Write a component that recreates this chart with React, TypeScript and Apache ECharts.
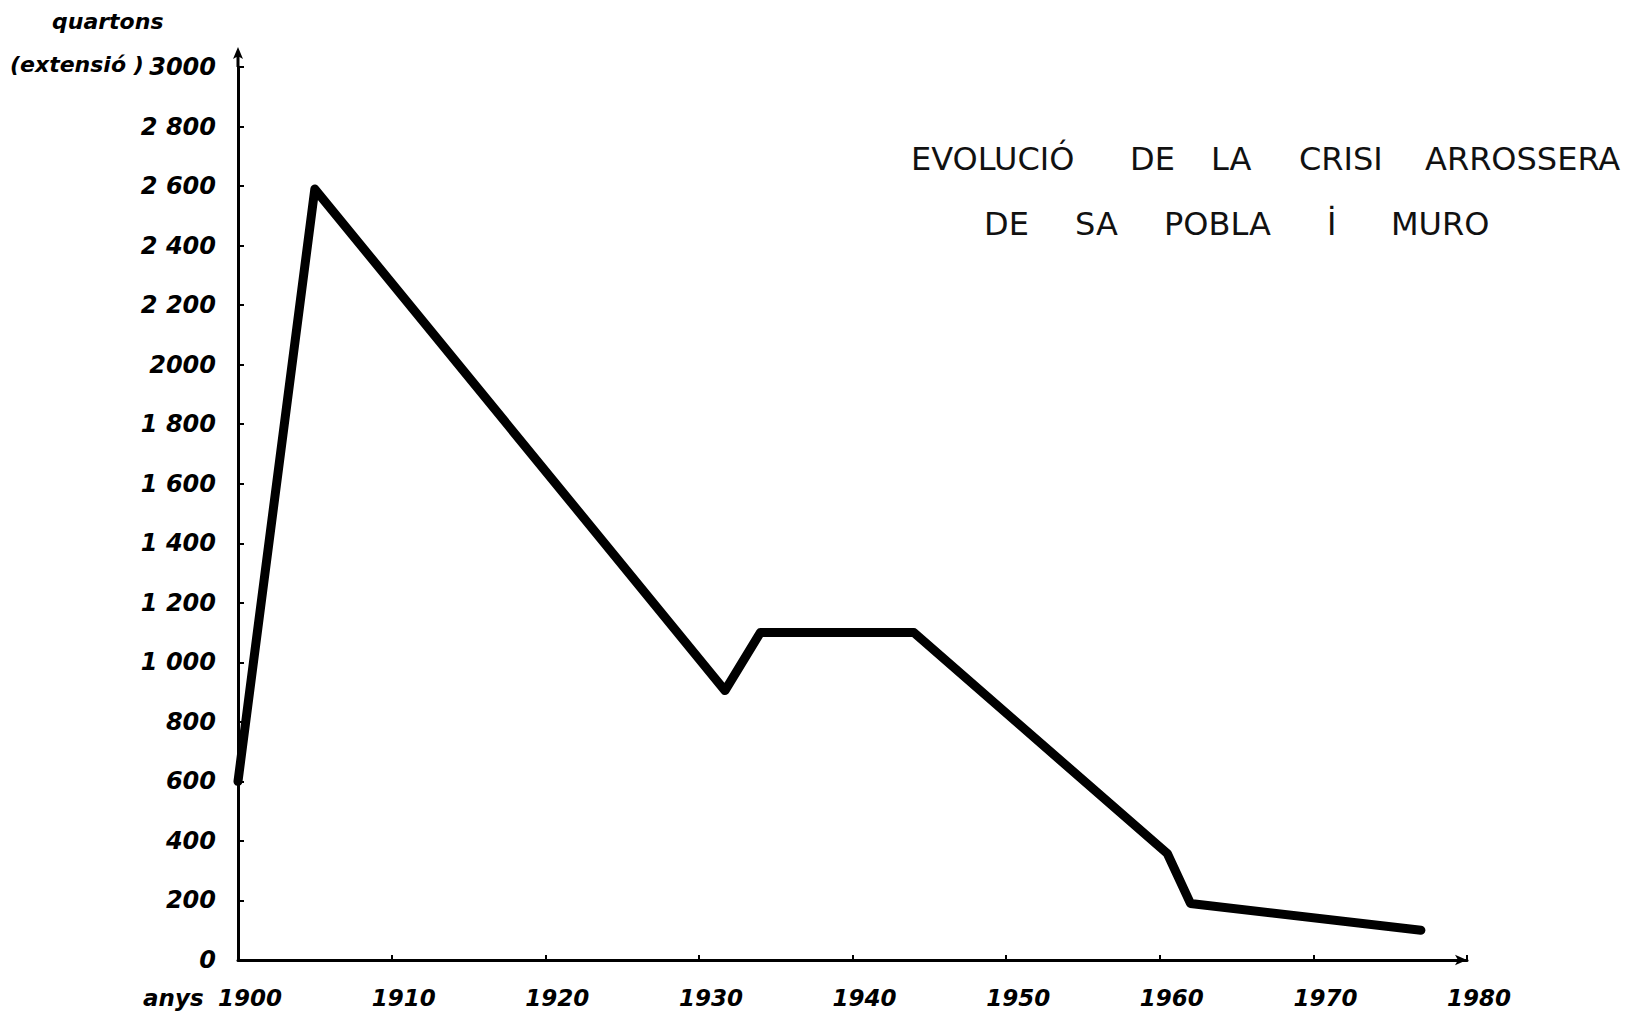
import React, { useEffect, useRef } from 'react';
import * as echarts from 'echarts';

// ---- data ----
const years = [1900, 1905, 1931.7, 1934, 1944, 1960.5, 1962, 1977];
const values = [600, 2590, 905, 1100, 1100, 357, 190, 100];
const yTickValues = [0, 200, 400, 600, 800, 1000, 1200, 1400, 1600, 1800, 2000, 2200, 2400, 2600, 2800, 3000];
const yTickLabels = ['0', '200', '400', '600', '800', '1 000', '1 200', '1 400', '1 600', '1 800', '2000', '2 200', '2 400', '2 600', '2 800', '3000'];
const xTickValues = [1900, 1910, 1920, 1930, 1940, 1950, 1960, 1970, 1980];
const xTickLabels = ['1900', '1910', '1920', '1930', '1940', '1950', '1960', '1970', '1980'];
const titleLine1 = ['EVOLUCIÓ', 'DE', 'LA', 'CRISI', 'ARROSSERA'];
const titleLine2 = ['DE', 'SA', 'POBLA', 'İ', 'MURO'];
const yNameLine1 = 'quartons';
const yNameLine2 = '(extensió )';
const xName = 'anys';

// ---- layout (positions only) ----
const title1X = [911, 1130, 1211, 1299, 1425];
const title2X = [984, 1075, 1164, 1327, 1391];
const title1Y = 159;
const title2Y = 224;

const labelFont = {
  fontFamily: 'DejaVu Sans',
  fontWeight: 'bold' as const,
  fontStyle: 'italic' as const,
  color: '#000',
};

export default function App() {
  const ref = useRef<HTMLDivElement>(null);
  useEffect(() => {
    if (!ref.current) return;
    const chart = echarts.init(ref.current, undefined, { renderer: 'svg' });
    const data = years.map((y, i) => [y, values[i]]);
    const graphics: any[] = [];
    titleLine1.forEach((w, i) =>
      graphics.push({
        type: 'text',
        x: title1X[i],
        y: title1Y,
        style: { text: w, fill: '#111', font: 'normal 32px "DejaVu Sans"', textVerticalAlign: 'middle', textAlign: 'left' },
      })
    );
    titleLine2.forEach((w, i) =>
      graphics.push({
        type: 'text',
        x: title2X[i],
        y: title2Y,
        style: { text: w, fill: '#111', font: 'normal 32px "DejaVu Sans"', textVerticalAlign: 'middle', textAlign: 'left' },
      })
    );
    graphics.push({
      type: 'text', x: 52, y: 21,
      style: { text: yNameLine1, fill: '#000', font: 'italic bold 22px "DejaVu Sans"', textVerticalAlign: 'middle' },
    });
    graphics.push({
      type: 'text', x: 10, y: 64,
      style: { text: yNameLine2, fill: '#000', font: 'italic bold 22px "DejaVu Sans"', textVerticalAlign: 'middle' },
    });
    graphics.push({
      type: 'text', x: 143, y: 998,
      style: { text: xName, fill: '#000', font: 'italic bold 23px "DejaVu Sans"', textVerticalAlign: 'middle' },
    });

    chart.setOption({
      animation: false,
      backgroundColor: '#fff',
      grid: { left: 238, right: 169, top: 67, bottom: 58 },
      xAxis: {
        type: 'value',
        min: 1900,
        max: 1980,
        interval: 10,
        splitLine: { show: false },
        axisLine: {
          onZero: false,
          lineStyle: { color: '#000', width: 3 },
          symbol: ['none', 'arrow'],
          symbolSize: [8, 12],
        },
        axisTick: { show: true, inside: true, length: 5, lineStyle: { color: '#000', width: 2 } },
        axisLabel: {
          ...labelFont,
          fontSize: 23,
          margin: 26,
          padding: [0, 0, 0, 24],
          formatter: (v: number) => {
            const i = xTickValues.indexOf(v);
            return i >= 0 ? xTickLabels[i] : '';
          },
        },
      },
      yAxis: {
        type: 'value',
        min: 0,
        max: 3000,
        interval: 200,
        splitLine: { show: false },
        axisLine: {
          show: true,
          lineStyle: { color: '#000', width: 3 },
          symbol: ['none', 'path://M5,0 L10,12 L6.5,10 L6.5,20 L3.5,20 L3.5,10 L0,12 Z'],
          symbolSize: [10, 20],
          symbolOffset: [0, 10],
        },
        axisTick: { show: true, inside: true, length: 6, lineStyle: { color: '#000', width: 2 } },
        axisLabel: {
          ...labelFont,
          fontSize: 24,
          margin: 22,
          formatter: (v: number) => {
            const i = yTickValues.indexOf(v);
            return i >= 0 ? yTickLabels[i] : '';
          },
        },
      },
      series: [
        {
          type: 'line',
          data,
          symbol: 'none',
          lineStyle: { color: '#000', width: 9, cap: 'round', join: 'round' },
        },
      ],
      graphic: graphics,
    });
    return () => chart.dispose();
  }, []);
  return (
    <div
      ref={ref}
      style={{ position: 'fixed', left: 0, top: 0, width: 1636, height: 1018, background: '#fff' }}
    />
  );
}
